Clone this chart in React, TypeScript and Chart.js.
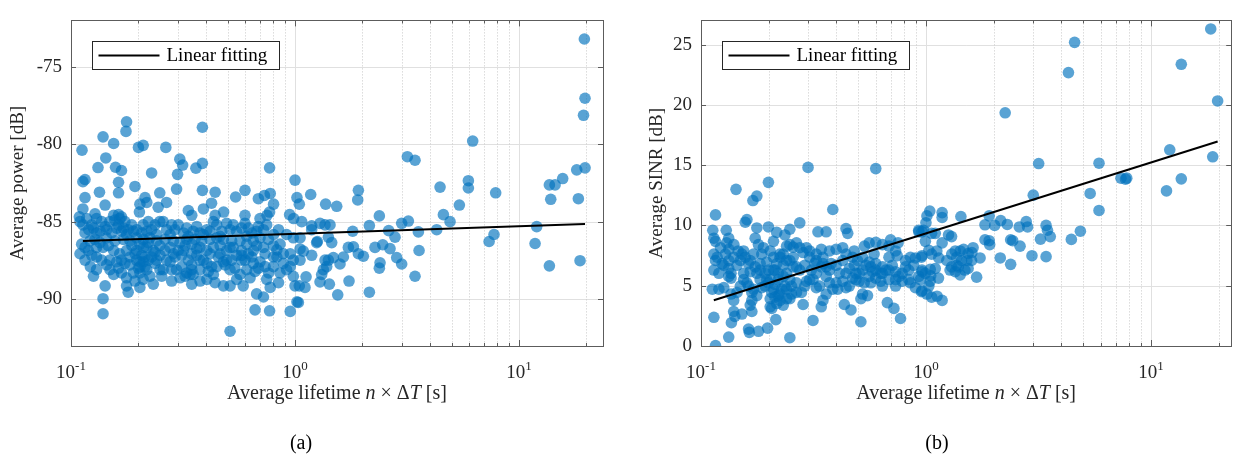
import React, { useEffect, useRef } from "react";
import { Chart, registerables } from "chart.js";

Chart.register(...registerables);

const FONT = "'Liberation Serif', 'Times New Roman', serif";
const TEXT = "#262626";
const AXIS = "#5c5c5c";
const GRID = "#e0e0e0";
const MINOR_GRID = "#c8c8c8";
const DOT = "rgba(0,114,189,0.65)";

// ---------- data: (a) average lifetime [s] vs average power [dB] ----------
const powerPoints: [number, number][] = [
  [0.177,-78.54],[0.176,-79.16],[0.386,-78.89],[0.139,-79.51],[0.155,-79.94],[0.112,-80.37],[0.200,-80.19],[0.210,-80.06],[0.265,-80.19],[0.143,-80.87],
  [0.132,-81.49],[0.158,-81.47],[0.168,-81.68],[0.229,-81.84],[0.306,-80.95],[0.315,-81.33],[0.361,-81.53],[0.386,-81.22],[0.299,-81.93],[0.770,-81.51],
  [0.113,-82.40],[0.1155,-82.26],[0.134,-83.08],[0.163,-82.44],[0.163,-83.12],[0.193,-82.71],[0.249,-83.12],[0.296,-82.88],[0.386,-82.96],[0.440,-83.08],
  [0.543,-83.39],[0.598,-82.96],[0.686,-83.50],[0.730,-83.29],[0.775,-83.16],[1.0,-82.30],[0.1155,-83.43],[0.142,-83.91],[0.113,-84.16],[0.109,-84.67],
  [0.128,-84.47],[0.130,-84.78],[0.155,-84.57],[0.163,-84.53],[0.168,-84.67],[0.203,-83.85],[0.214,-83.43],[0.218,-83.74],[0.202,-84.36],[0.245,-84.05],
  [0.267,-83.74],[0.249,-84.98],[0.334,-84.26],[0.346,-84.57],[0.390,-84.16],[0.424,-83.79],[0.440,-84.57],[0.480,-84.36],[0.598,-84.57],[0.598,-85.09],
  [0.698,-84.78],[0.750,-84.57],[0.802,-83.85],[0.770,-84.36],[0.946,-84.53],[0.986,-84.78],[1.02,-83.43],
  [0.113,-85.19],[0.1155,-85.71],[0.120,-85.50],[0.126,-85.40],[0.130,-85.71],[0.135,-85.60],[0.149,-84.98],[0.157,-84.88],[0.165,-84.78],[0.174,-84.98],
  [0.180,-85.50],[0.190,-85.60],[0.168,-85.60],[0.160,-85.40],[0.152,-85.71],[0.144,-86.02],[0.142,-85.29],[0.210,-85.19],[0.207,-85.71],[0.218,-85.60],
  [0.225,-86.02],[0.237,-85.19],[0.258,-84.98],[0.277,-85.81],[0.291,-85.50],[0.301,-85.19],[0.318,-85.71],[0.334,-85.92],[0.351,-85.60],[0.376,-85.71],
  [0.404,-85.50],[0.432,-84.98],[0.447,-85.19],[0.471,-85.60],[0.495,-85.09],[0.513,-85.50],[0.548,-85.60],[0.577,-85.40],[0.608,-85.92],[0.641,-85.71],
  [0.674,-85.60],[0.723,-85.50],[0.802,-85.81],
  [0.1155,-86.64],[0.130,-86.64],[0.139,-86.64],[0.155,-86.84],[0.165,-87.05],[0.177,-86.84],[0.187,-86.53],[0.203,-86.43],[0.218,-86.64],[0.233,-86.84],
  [0.249,-86.53],[0.277,-86.64],[0.301,-86.84],[0.323,-86.53],[0.346,-86.43],[0.376,-86.64],[0.404,-86.84],[0.432,-86.64],[0.463,-86.53],[0.495,-86.84],
  [0.530,-86.64],[0.577,-86.84],[0.619,-87.05],[0.674,-86.53],[0.830,-86.80],[0.952,-87.05],
  [0.1155,-87.46],[0.122,-87.88],[0.130,-88.08],[0.149,-87.46],[0.160,-87.57],[0.174,-87.67],[0.183,-87.77],[0.196,-87.46],[0.214,-87.26],[0.214,-87.88],
  [0.229,-87.26],[0.258,-88.08],[0.277,-87.57],[0.296,-88.08],[0.346,-88.08],[0.351,-88.39],[0.376,-87.46],[0.404,-87.67],[0.432,-88.39],[0.487,-87.77],
  [0.521,-87.46],[0.539,-87.98],[0.577,-87.46],[0.641,-87.26],[0.663,-88.19],[0.698,-87.57],[0.762,-88.29],[0.952,-87.88],
  [0.126,-88.50],[0.142,-89.12],[0.155,-88.39],[0.168,-88.29],[0.177,-89.12],[0.193,-88.81],[0.210,-88.70],[0.233,-89.01],[0.323,-88.50],[0.340,-88.39],
  [0.346,-89.01],[0.404,-88.70],[0.479,-89.12],[0.513,-89.12],[0.587,-89.12],[0.674,-89.64],[0.723,-89.84],[0.775,-89.22],[0.844,-88.91],[1.0,-89.12],
  [1.02,-90.15],[0.139,-89.95],[0.180,-89.53],[0.203,-89.22],[0.139,-90.92],[0.663,-90.67],[0.770,-90.73],[0.952,-90.77],[0.513,-92.05],
  [0.1216,-86.22],[0.128,-86.12],[0.1347,-86.33],[0.1468,-86.53],[0.1572,-86.22],[0.1713,-86.12],[0.1834,-86.22],[0.1964,-86.02],[0.2103,-86.12],[0.2214,-86.33],
  [0.2412,-86.22],[0.2628,-86.12],[0.2862,-86.22],[0.3066,-86.33],[0.3284,-86.12],[0.3579,-86.12],[0.3831,-86.22],[0.4175,-86.12],[0.4471,-86.02],[0.4786,-86.12],
  [0.5216,-86.22],[0.5682,-86.22],[0.6086,-86.43],[0.6516,-86.22],[0.698,-86.02],[0.7603,-86.12],[0.857,-86.43],[0.983,-86.02],
  [0.1493,-88.08],[0.163,-87.98],[0.1998,-87.98],[0.2103,-87.57],[0.2371,-87.67],[0.2496,-88.08],[0.3119,-87.88],[0.3284,-88.29],[0.3767,-88.08],[0.4104,-88.19],
  [0.4471,-87.88],[0.5127,-88.08],[0.5682,-88.39],[0.6086,-88.08],[0.686,-87.98],[0.8006,-87.88],[0.887,-87.67],
  [0.1931,-87.05],[0.2068,-87.15],[0.2214,-87.46],[0.2496,-87.15],[0.2673,-87.46],[0.2912,-87.26],[0.3119,-87.15],[0.3341,-87.46],[0.3641,-87.15],[0.4548,-87.26],
  [0.4954,-87.46],[0.549,-87.15],[0.5983,-87.46],[0.7347,-87.05],[0.8006,-87.26],[0.887,-87.05],[0.983,-87.46],
  [0.2032,-88.29],[0.2252,-88.50],[0.254,-88.50],[0.2814,-88.81],[0.3066,-88.60],[0.3767,-88.81],[0.4395,-88.91],[0.549,-88.70],[0.6299,-88.60],[0.7472,-88.70],
  [0.857,-88.29],[0.983,-88.50],
  [0.1097,-84.98],[0.1175,-84.78],[0.1237,-85.19],[0.137,-84.98],[0.1443,-85.5],[0.163,-85.19],[0.1713,-85.4],[0.177,-85.81],[0.1866,-85.19],[0.1964,-85.5],
  [0.2214,-84.98],[0.229,-85.5],[0.2412,-85.81],[0.2673,-85.5],[0.2814,-85.19],[0.3284,-85.4],[0.3641,-85.29],[0.390,-85.81],[0.4175,-85.6],[0.4627,-85.92],
  [0.530,-85.19],[0.619,-85.4],[0.686,-85.29],[0.7472,-85.19],[0.844,-85.5],[0.917,-85.81],
  [0.1097,-87.05],[0.1237,-87.15],[0.137,-87.46],[0.1443,-87.77],[0.168,-87.46],[0.1834,-87.26],[0.2032,-87.57],[0.1964,-86.84],[0.2103,-86.64],[0.2371,-86.95],
  [0.2412,-87.46],[0.2628,-86.84],[0.2862,-87.05],[0.3173,-86.84],[0.3453,-87.05],[0.3641,-86.74],[0.4175,-87.05],[0.4627,-87.05],[0.5127,-86.64],[0.577,-87.15],
  [0.6516,-86.84],[0.723,-86.64],[0.8006,-86.53],[0.2032,-87.88],[0.2178,-88.08],[0.1899,-88.29],[0.177,-88.6],[0.2814,-88.08],[0.3453,-87.77],[0.390,-87.46],
  [0.4244,-87.88],[0.4786,-87.57],[0.6516,-87.67],[0.7347,-87.88],[0.830,-87.26],[0.917,-88.08],[0.130,-87.26],[0.1195,-86.84],[0.1116,-86.43],
  [1.045,-83.85],[1.175,-83.23],[1.37,-83.85],[1.535,-83.99],[1.918,-82.96],[1.905,-83.58],[3.173,-80.79],[3.433,-81.02],[6.21,-79.78],[4.44,-82.75],
  [5.94,-82.34],[5.94,-82.81],[7.865,-83.12],[5.415,-83.91],[4.595,-84.53],[4.92,-84.98],[2.379,-84.61],[2.147,-85.23],[2.993,-85.09],[3.206,-84.94],
  [2.619,-85.56],[2.795,-85.98],[3.553,-85.64],[4.29,-85.5],[3.578,-86.84],[3.433,-88.5],[2.147,-89.53],[1.742,-88.81],[1.551,-89.7],[1.423,-89.01],
  [1.293,-88.87],[1.108,-89.22],[1.045,-89.12],[1.035,-90.19],[1.12,-88.54],[1.315,-88.39],[1.338,-88.08],[1.385,-87.88],[1.361,-87.46],[1.409,-87.46],
  [1.483,-87.3],[1.588,-87.71],[1.644,-87.26],[1.73,-86.64],[1.822,-86.6],[1.918,-87.05],[2.019,-87.21],[2.275,-86.64],[2.396,-87.63],[2.379,-87.98],
  [2.463,-86.47],[2.655,-86.72],[2.844,-87.3],[2.993,-87.71],[1.053,-87.46],[1.053,-86.74],[1.089,-86.88],[1.187,-87.15],[1.258,-86.26],[1.053,-86.02],
  [1.071,-84.98],[1.187,-85.25],[1.187,-85.5],[1.293,-85.09],[1.361,-85.19],[1.433,-85.19],[1.409,-85.98],[1.458,-86.33],[1.809,-85.6],[1.249,-86.33],
  [7.35,-86.26],[7.73,-85.81],
  [11.99,-85.3],[11.79,-86.39],[13.66,-87.83],[18.72,-87.5],[18.4,-83.5],[13.85,-83.54],[13.66,-82.61],[14.48,-82.61],[15.66,-82.2],[18.09,-81.64],
  [19.71,-81.51],[19.57,-73.2],[19.7,-77.02],[19.4,-78.12],
];
const fitLifetimeA = [0.113, 19.7];
const fitPowerA = [-86.22, -85.13];

// ---------- data: (b) average lifetime [s] vs average SINR [dB] ----------
const sinrPoints: [number, number][] = [
  [0.2991,14.81],[0.5983,14.71],[0.1431,12.99],[0.1994,13.57],[0.1701,12.06],[0.1771,12.43],[0.3854,11.32],[0.116,10.87],[0.1573,10.26],[0.16,10.48],
  [0.2748,10.21],[0.1128,9.6],[0.1295,9.6],[0.1771,9.79],[0.1994,9.87],[0.217,9.42],[0.2483,9.68],[0.3311,9.47],[0.3602,9.47],[0.4412,9.74],[0.449,9.34],
  [0.1141,8.94],[0.116,8.68],[0.1328,8.94],[0.13,8.55],[0.14,8.41],[0.133,8.02],[0.1547,7.88],[0.152,7.62],[0.1741,8.94],[0.18,8.41],
  [0.1894,8.15],[0.203,7.88],[0.21,8.68],[0.2244,7.62],[0.2401,8.28],[0.2569,8.2],[0.2943,8.15],[0.2843,7.75],[0.3255,7.62],[0.3483,7.36],[0.3726,7.88],
  [0.3987,8.02],[0.4266,8.15],[0.48,7.88],[0.5333,8.28],[0.5591,8.55],[0.5983,8.6],[0.6965,8.81],[0.7516,8.55],[0.9284,9.6],[0.9603,9.47],[1.01,10.79],
  [0.1141,7.62],[0.116,7.09],[0.118,7.36],[0.1263,6.69],[0.1328,6.43],[0.136,6.03],[0.1495,7.09],[0.1573,7.36],[0.1627,6.83],
  [0.1741,6.56],[0.1832,6.83],[0.196,6.96],[0.21,6.3],[0.2244,7.36],[0.2321,6.69],[0.2483,7.09],[0.2657,6.56],[0.2892,6.69],[0.3042,7.36],[0.3201,6.83],
  [0.3483,6.83],[0.3726,6.3],[0.3987,6.69],[0.4266,7.09],[0.4564,6.43],[0.4884,6.03],[0.5226,6.3],[0.5688,6.56],[0.5983,6.83],[0.6402,6.56],[0.6848,7.36],[0.745,7.49],
  [0.811,7.09],[0.853,7.36],[0.8976,7.3],[0.9603,7.49],[0.1141,6.3],[0.1201,6.03],[0.1123,4.71],[0.1201,4.71],[0.1263,4.84],[0.1328,5.77],[0.136,5.63],
  [0.136,4.31],[0.1446,4.44],[0.1397,3.78],[0.1495,4.97],[0.16,5.24],[0.1683,4.44],[0.1771,4.18],[0.1832,5.5],[0.1994,5.24],[0.21,4.71],[0.2207,4.18],
  [0.217,3.52],[0.2321,3.39],[0.2401,3.92],[0.2526,4.97],[0.2483,5.5],[0.2657,4.44],[0.2795,4.44],[0.2943,5.37],[0.3147,5.5],[0.3367,4.97],
  [0.3483,3.78],[0.3602,4.31],[0.3854,4.71],[0.3987,5.24],[0.4266,5.37],[0.4412,4.84],[0.4721,5.63],[0.5052,5.37],[0.5315,5.24],[0.5591,5.77],[0.5983,5.63],[0.6295,5.37],
  [0.6848,5.5],[0.7328,4.97],[0.7841,5.37],[0.8389,5.5],[0.9284,5.77],[0.9603,4.58],[1.01,4.31],[0.5226,4.31],[0.5497,4.18],[0.5138,3.92],
  [0.6735,3.6],[0.7205,3.12],[0.7709,2.28],[0.4338,3.44],[0.4642,2.99],[0.2843,3.44],[0.3147,2.12],[0.3425,3.25],[0.2062,3.12],[0.2151,2.19],[0.1977,1.48],
  [0.1683,2.86],[0.1655,3.39],[0.152,2.65],[0.1397,2.86],[0.1414,2.46],[0.1365,1.93],[0.1141,2.38],[0.1627,1.4],[0.1801,1.22],[0.164,1.13],[0.1328,0.74],
  [0.2483,0.69],[0.116,0.03],[0.5138,2.01],
  [0.1547,6.03],[0.1655,6.16],[0.1771,6.03],[0.1832,6.3],[0.1927,6.03],[0.203,5.5],[0.2133,6.3],[0.2207,6.03],[0.2321,5.77],[0.2401,6.03],[0.2569,6.56],[0.2748,6.3],
  [0.1927,4.97],[0.2062,4.44],[0.2244,4.31],[0.236,4.97],[0.203,3.92],[0.2133,4.05],[0.2282,4.71],[0.133,7.09],[0.14,7.36],[0.1463,7.88],
  [0.236,9.21],[0.2483,8.41],[0.2657,8.55],[0.3425,8.02],[0.3255,7.09],[0.3602,6.56],[0.4412,7.62],[0.4721,7.36],[0.4967,7.09],[0.5226,7.36],[0.5591,6.96],[0.5882,7.62],
  [0.6402,8.41],[0.6848,8.28],[0.7328,7.88],[0.5983,6.3],[0.6402,6.03],[0.6848,6.3],[0.758,5.77],[0.7841,6.03],[0.8389,6.3],
  [0.1221,8.15],[0.1242,6.83],[0.1284,7.62],[0.1445,6.69],[0.1655,7.09],[0.1712,7.62],[0.1863,7.62],[0.1994,6.3],[0.2098,7.36],[0.217,6.83],
  [0.2321,7.62],[0.2401,7.09],[0.2569,7.36],[0.2748,8.15],[0.3042,7.88],[0.3094,6.3],[0.3255,6.03],[0.3425,6.56],[0.3602,5.77],[0.3789,6.83],
  [0.4124,6.03],[0.4412,6.03],[0.4802,6.69],[0.5052,6.03],[0.5405,6.69],[0.5784,6.16],[0.6295,6.03],[0.6622,6.3],[0.7084,6.69],[0.7328,6.16],
  [0.811,6.56],[0.882,6.69],[0.9603,6.3],[0.1547,5.5],[0.1627,4.97],[0.1712,4.71],[0.1863,4.84],[0.196,5.5],[0.2133,5.11],[0.2207,5.5],
  [0.2401,4.71],[0.2526,4.31],[0.2657,5.24],[0.2892,4.97],[0.3042,5.5],[0.3255,4.84],[0.3726,5.24],[0.405,4.71],[0.4564,4.97],[0.4884,5.5],
  [0.5688,5.24],[0.6402,4.97],[0.7328,5.5],[0.853,5.24],[0.8976,4.84],[0.203,3.25],[0.2244,3.78],[0.2483,3.92],[0.1683,3.78],
  [12.13,16.27],[18.83,15.69],[13.65,13.86],[11.73,12.86],[7.81,13.92],[7.36,13.92],[7.71,13.84],[5.88,15.16],[5.88,11.24],[5.37,12.65],[3.17,15.13],[3.0,12.51],
  [4.86,9.52],[4.43,8.84],[3.42,10.0],[3.47,9.6],[3.57,9.07],[3.23,8.86],[2.79,10.32],[2.83,9.87],[2.6,9.87],[2.96,7.49],[3.42,7.41],
  [2.38,8.81],[2.43,8.73],[2.62,8.28],[2.14,7.3],[2.38,6.77],[2.3,10.08],[2.15,10.4],[2.02,10.0],[1.91,10.79],[1.83,10.05],
  [1.83,8.81],[1.92,8.41],[1.91,8.73],[1.74,7.3],[1.68,5.71],[1.62,8.15],[1.6,7.75],
  [1.54,7.67],[1.47,8.02],[1.42,7.88],[1.35,7.88],[1.37,7.36],[1.44,7.09],[1.52,7.09],[1.3,6.56],[1.37,6.69],[1.42,5.9],[1.49,6.3],[1.54,6.43],[1.28,6.3],[1.35,6.16],
  [1.43,10.74],[1.18,11.06],[1.18,10.66],[1.04,11.19],[1.0,10.21],[0.977,9.6],[1.06,9.34],[1.1,9.34],[1.18,8.55],[1.26,9.21],[1.3,9.07],
  [1.03,7.94],[1.14,7.3],[1.06,7.62],[0.955,7.36],[0.961,6.16],[1.045,6.35],[1.1,6.43],[1.05,5.82],[1.045,5.37],[1.03,4.97],[0.955,4.5],[1.06,4.05],[1.12,4.13],[1.18,3.78],
  [0.944,5.5],[0.994,6.03],[1.137,5.63],[1.238,7.09],[1.302,7.62],[1.118,7.88],[0.994,8.68],[0.929,9.47],[1.595,7.09],[1.393,6.56],
  [18.45,26.29],[13.65,23.36],[19.8,20.32],[4.58,25.18],[4.3,22.67],[2.25,19.34],
];
const fitLifetimeB = [0.114, 19.8];
const fitSinrB = [3.79, 16.96];

// ---------- axes ----------
const powerTicks = [-90, -85, -80, -75];
const sinrTicks = [0, 5, 10, 15, 20, 25];
const xMajorTicks = [0.1, 1, 10];
const xMinorTicks = [0.2, 0.3, 0.4, 0.5, 0.6, 0.7, 0.8, 0.9, 2, 3, 4, 5, 6, 7, 8, 9, 20];
const xTickLabels = [
  { value: 0.1, base: "10", exp: "-1" },
  { value: 1, base: "10", exp: "0" },
  { value: 10, base: "10", exp: "1" },
];
const legendLabel = "Linear fitting";
const xTitleParts = [
  { t: "Average lifetime ", italic: false },
  { t: "n", italic: true },
  { t: " × ", italic: false },
  { t: "Δ", italic: false },
  { t: "T", italic: true },
  { t: " [s]", italic: false },
];

type PanelOpts = {
  points: [number, number][];
  fitX: number[];
  fitY: number[];
  xMax: number;
  yMin: number;
  yMax: number;
  yTicks: number[];
  yTitle: string;
  yTitleCenter: number;
  yWidth: number;
  padding: { left: number; top: number; right: number; bottom: number };
  caption: string;
  captionX: number;
};

function panelPlugin(o: PanelOpts) {
  const f = (size: number, italic = false) => `${italic ? "italic " : ""}${size}px ${FONT}`;
  return {
    id: "panelFrame",
    beforeDatasetsDraw(chart: any) {
      const { ctx, chartArea: a, scales } = chart;
      const xs = scales.x;
      const ys = scales.y;
      ctx.save();
      ctx.lineWidth = 1;
      ctx.strokeStyle = GRID;
      ctx.beginPath();
      for (const v of o.yTicks) {
        const y = Math.round(ys.getPixelForValue(v)) + 0.5;
        ctx.moveTo(a.left, y);
        ctx.lineTo(a.right, y);
      }
      for (const v of xMajorTicks) {
        const x = Math.round(xs.getPixelForValue(v)) + 0.5;
        ctx.moveTo(x, a.top);
        ctx.lineTo(x, a.bottom);
      }
      ctx.stroke();
      ctx.setLineDash([1, 2]);
      ctx.strokeStyle = MINOR_GRID;
      ctx.beginPath();
      for (const v of xMinorTicks) {
        if (v > o.xMax) continue;
        const x = Math.round(xs.getPixelForValue(v)) + 0.5;
        ctx.moveTo(x, a.top);
        ctx.lineTo(x, a.bottom);
      }
      ctx.stroke();
      ctx.restore();
    },
    afterDatasetsDraw(chart: any) {
      const { ctx, chartArea: a, scales } = chart;
      const xs = scales.x;
      const ys = scales.y;
      ctx.save();
      // box
      ctx.strokeStyle = AXIS;
      ctx.lineWidth = 1;
      ctx.strokeRect(Math.round(a.left) + 0.5, Math.round(a.top) + 0.5, Math.round(a.right - a.left), Math.round(a.bottom - a.top));
      // tick marks
      ctx.beginPath();
      const xTick = (v: number, len: number) => {
        const x = Math.round(xs.getPixelForValue(v)) + 0.5;
        ctx.moveTo(x, a.bottom);
        ctx.lineTo(x, a.bottom - len);
        ctx.moveTo(x, a.top);
        ctx.lineTo(x, a.top + len);
      };
      xMajorTicks.forEach((v) => xTick(v, 6));
      xMinorTicks.filter((v) => v <= o.xMax).forEach((v) => xTick(v, 3));
      for (const v of o.yTicks) {
        const y = Math.round(ys.getPixelForValue(v)) + 0.5;
        ctx.moveTo(a.left, y);
        ctx.lineTo(a.left + 5, y);
        ctx.moveTo(a.right, y);
        ctx.lineTo(a.right - 5, y);
      }
      ctx.stroke();

      // legend
      const lx = Math.round(a.left + 21) + 0.5;
      const ly = Math.round(a.top + 21) + 0.5;
      ctx.fillStyle = "#ffffff";
      ctx.fillRect(lx, ly, 187, 28);
      ctx.strokeStyle = "#262626";
      ctx.lineWidth = 1;
      ctx.strokeRect(lx, ly, 187, 28);
      ctx.strokeStyle = "#000000";
      ctx.lineWidth = 2;
      ctx.beginPath();
      ctx.moveTo(lx + 6, ly + 14);
      ctx.lineTo(lx + 67, ly + 14);
      ctx.stroke();
      ctx.fillStyle = "#000000";
      ctx.font = f(19);
      ctx.textAlign = "left";
      ctx.textBaseline = "middle";
      ctx.fillText(legendLabel, lx + 74, ly + 15);

      // x tick labels (10^n)
      ctx.fillStyle = TEXT;
      ctx.textBaseline = "alphabetic";
      for (const t of xTickLabels) {
        const cx = xs.getPixelForValue(t.value);
        ctx.font = f(19);
        const wb = ctx.measureText(t.base).width;
        ctx.font = f(13);
        const we = ctx.measureText(t.exp).width;
        const x0 = cx - (wb + we) / 2;
        ctx.font = f(19);
        ctx.fillText(t.base, x0, a.bottom + 32);
        ctx.font = f(13);
        ctx.fillText(t.exp, x0 + wb, a.bottom + 24);
      }

      // x title with italic symbols
      let total = 0;
      for (const p of xTitleParts) {
        ctx.font = f(20, p.italic);
        total += ctx.measureText(p.t).width;
      }
      let x = (a.left + a.right) / 2 - total / 2;
      for (const p of xTitleParts) {
        ctx.font = f(20, p.italic);
        ctx.fillText(p.t, x, a.bottom + 53);
        x += ctx.measureText(p.t).width;
      }

      // caption
      ctx.fillStyle = "#000000";
      ctx.font = f(20);
      ctx.textAlign = "center";
      ctx.fillText(o.caption, o.captionX, 449);
      ctx.restore();
    },
  };
}

function buildConfig(o: PanelOpts): any {
  return {
    type: "scatter",
    data: {
      datasets: [
        {
          label: legendLabel,
          data: o.fitX.map((x, i) => ({ x, y: o.fitY[i] })),
          showLine: true,
          borderColor: "#000000",
          borderWidth: 2,
          pointRadius: 0,
          fill: false,
          order: 0,
        },
        {
          label: "data",
          data: o.points.map(([x, y]) => ({ x, y })),
          pointRadius: 5.8,
          pointHoverRadius: 5.8,
          backgroundColor: DOT,
          borderWidth: 0,
          order: 1,
        },
      ],
    },
    options: {
      responsive: false,
      animation: false,
      devicePixelRatio: 1,
      events: [],
      layout: { padding: o.padding },
      plugins: { legend: { display: false }, tooltip: { enabled: false } },
      scales: {
        x: {
          type: "logarithmic",
          min: 0.1,
          max: o.xMax,
          ticks: { display: false },
          grid: { display: false },
          border: { display: false },
          afterFit: (s: any) => {
            s.height = 0;
          },
        },
        y: {
          type: "linear",
          min: o.yMin,
          max: o.yMax,
          afterBuildTicks: (s: any) => {
            s.ticks = o.yTicks.map((v) => ({ value: v }));
          },
          ticks: { font: { family: FONT, size: 19 }, color: TEXT, padding: 9 },
          grid: { display: false, drawTicks: false },
          border: { display: false },
          title: {
            display: true,
            text: o.yTitle,
            color: TEXT,
            font: { family: FONT, size: 19 },
            padding: { top: o.yTitleCenter - 11.4, bottom: 0 },
          },
          afterFit: (s: any) => {
            s.width = o.yWidth;
          },
        },
      },
    },
    plugins: [panelPlugin(o)],
  };
}

function Panel({ left, width, opts }: { left: number; width: number; opts: PanelOpts }) {
  const ref = useRef<HTMLCanvasElement>(null);
  useEffect(() => {
    const chart = new Chart(ref.current as HTMLCanvasElement, buildConfig(opts));
    return () => chart.destroy();
  }, []);
  return (
    <canvas
      ref={ref}
      width={width}
      height={457}
      style={{ position: "absolute", left, top: 0, width, height: 457 }}
    />
  );
}

const panelA: PanelOpts = {
  points: powerPoints,
  fitX: fitLifetimeA,
  fitY: fitPowerA,
  xMax: 23.7,
  yMin: -93,
  yMax: -72,
  yTicks: powerTicks,
  yTitle: "Average power [dB]",
  yTitleCenter: 18,
  yWidth: 71,
  padding: { left: 0, top: 7, right: 15, bottom: 111 },
  caption: "(a)",
  captionX: 301,
};

const panelB: PanelOpts = {
  points: sinrPoints,
  fitX: fitLifetimeB,
  fitY: fitSinrB,
  xMax: 22.75,
  yMin: 0,
  yMax: 27,
  yTicks: sinrTicks,
  yTitle: "Average SINR [dB]",
  yTitleCenter: 39.5,
  yWidth: 83,
  padding: { left: 0, top: 6, right: 1, bottom: 111 },
  caption: "(b)",
  captionX: 319,
};

export default function App() {
  return (
    <div style={{ position: "absolute", left: 0, top: 0, width: 1237, height: 457, background: "#ffffff" }}>
      <Panel left={0} width={618} opts={panelA} />
      <Panel left={618} width={619} opts={panelB} />
    </div>
  );
}
